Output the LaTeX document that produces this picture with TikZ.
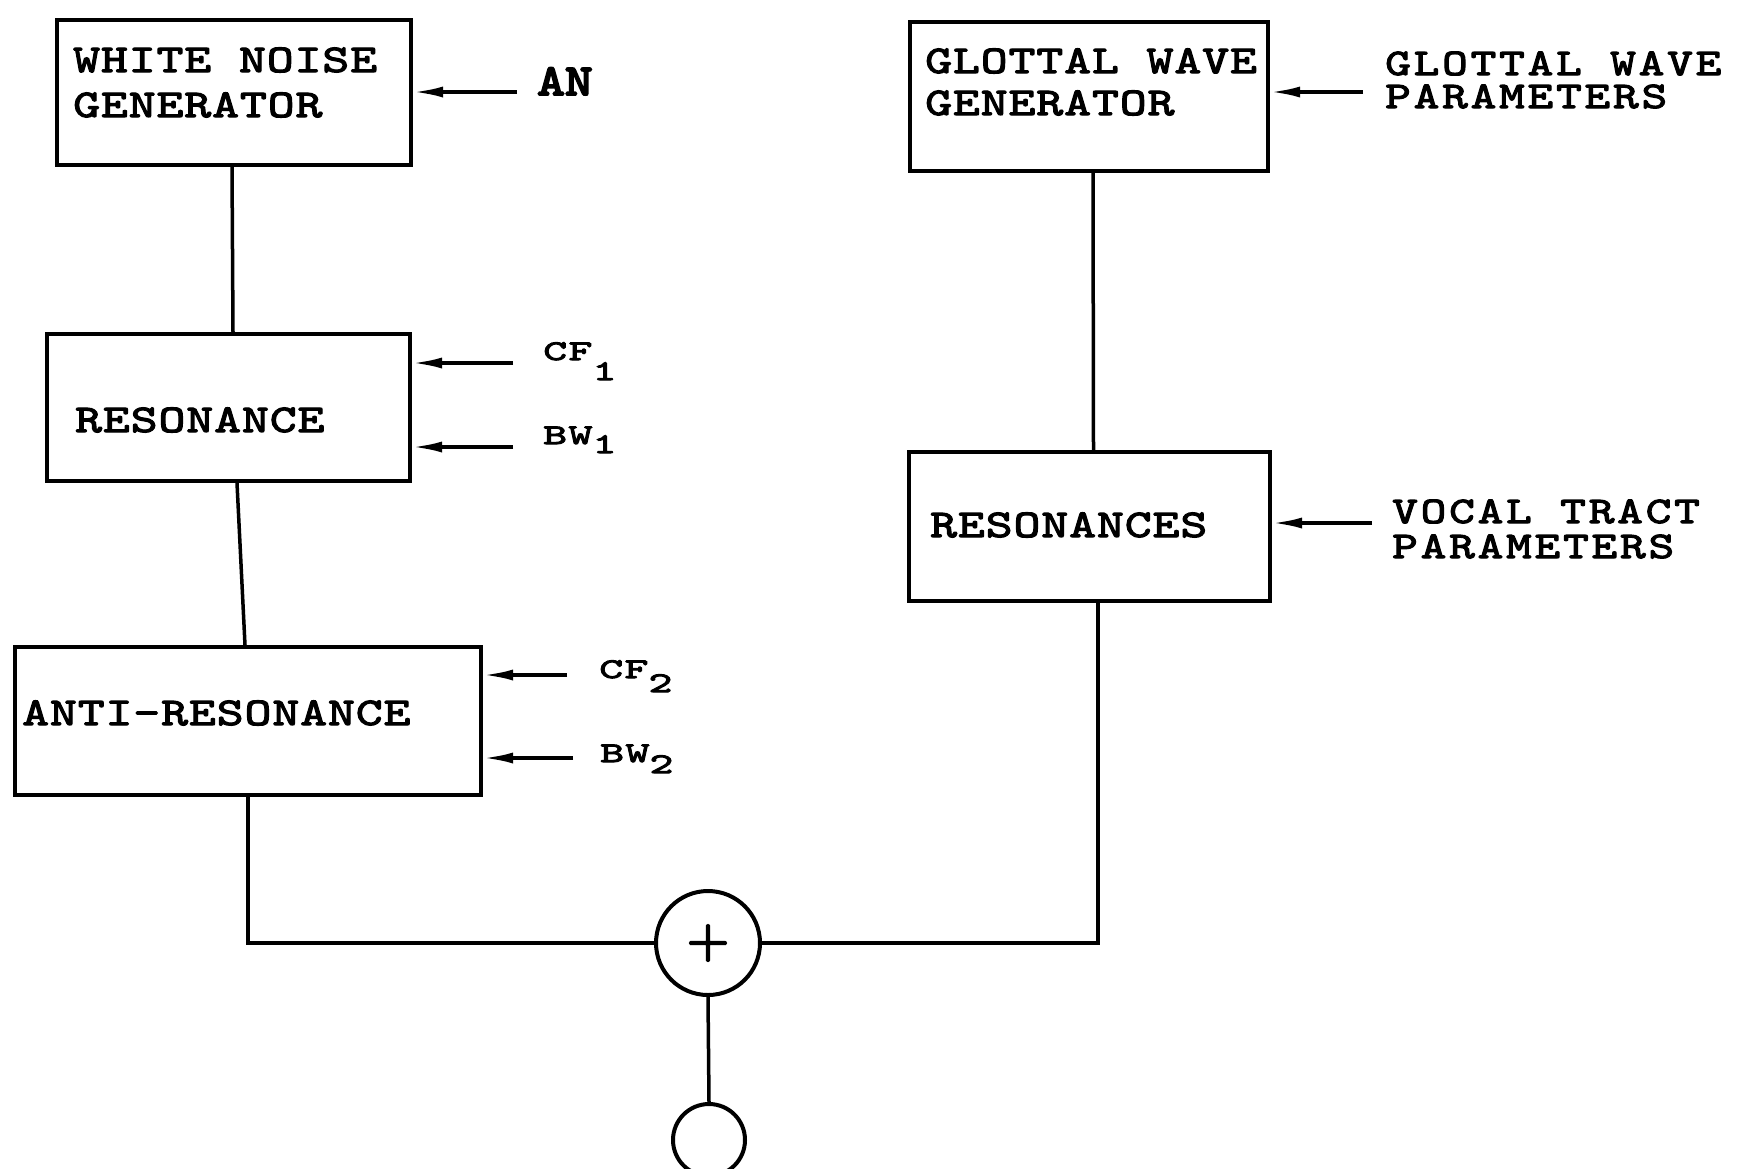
\documentclass[tikz,border=0pt]{standalone}
\usepackage{fontspec}
\usetikzlibrary{arrows.meta,calc}
\newfontfamily\twbox[FakeStretch=1.3,LetterSpace=2.5,FakeBold=3]{lmmono10-regular.otf}
\newfontfamily\twpar[FakeStretch=1.3,LetterSpace=7.5,FakeBold=3]{lmmono10-regular.otf}
\newfontfamily\twlbl[FakeStretch=1.6,LetterSpace=5,FakeBold=3.5]{lmmono10-regular.otf}
\newfontfamily\twan[FakeStretch=1.2,FakeBold=4.5]{lmmono10-regular.otf}
\newfontfamily\plusfont[FakeBold=3]{lmroman10-bold.otf}
\newcommand{\lowsub}[2]{\raisebox{-#1pt}{#2}}
\begin{document}
\begin{tikzpicture}[x=1pt,y=-1pt,
  blk/.style={draw, line width=4pt, rectangle, inner sep=0pt},
  wire/.style={line width=3.5pt},
  feed/.style={line width=3.5pt, -{Latex[length=30pt,width=11pt]}},
  boxtxt/.style={font=\twbox\fontsize{39.3}{40}\selectfont, anchor=base west, inner sep=0pt},
  partxt/.style={font=\twpar\fontsize{37.6}{40}\selectfont, anchor=base west, inner sep=0pt},
  lbltxt/.style={font=\twlbl\fontsize{28.5}{30}\selectfont, anchor=base west, inner sep=0pt},
  antxt/.style={font=\twan\fontsize{44}{46}\selectfont, anchor=base west, inner sep=0pt}]
\useasboundingbox (0,0) rectangle (1745,1168);

% boxes
\node[blk, minimum width=354pt, minimum height=145pt] (wn) at (234,92.5) {};
\node[blk, minimum width=363pt, minimum height=147pt] (res) at (228.5,407.5) {};
\node[blk, minimum width=466pt, minimum height=148pt] (ar) at (248,721) {};
\node[blk, minimum width=358pt, minimum height=149pt] (gw) at (1089,96.5) {};
\node[blk, minimum width=361pt, minimum height=149pt] (rs) at (1089.5,526.5) {};

% box texts
\node[boxtxt] (wn1) at (73,72) {WHITE NOISE};
\node[boxtxt] (wn2) at (73,117) {GENERATOR};
\node[boxtxt] (res1) at (75,432) {RESONANCE};
\node[boxtxt] (ar1) at (22,725) {ANTI-RESONANCE};
\node[boxtxt] (gw1) at (925,73) {GLOTTAL WAVE};
\node[boxtxt] (gw2) at (925,115) {GENERATOR};
\node[boxtxt] (rs1) at (930,537) {RESONANCES};

% input labels
\node[antxt] (an) at (537,95) {AN};
\node[lbltxt] (cf1) at (543,360) {CF\lowsub{20}{1}};
\node[lbltxt] (bw1) at (543,444) {BW\lowsub{9}{1}};
\node[lbltxt] (cf2) at (599,678) {CF\lowsub{14}{2}};
\node[lbltxt] (bw2) at (600,762) {BW\lowsub{11}{2}};
\node[partxt] (gp1) at (1385,75) {GLOTTAL WAVE};
\node[partxt] (gp2) at (1385,108) {PARAMETERS};
\node[partxt] (vp1) at (1392,523) {VOCAL TRACT};
\node[partxt] (vp2) at (1392,558) {PARAMETERS};

% input arrows
\coordinate (anS) at (517,92);
\coordinate (cf1S) at (513,363);
\coordinate (bw1S) at (513,447);
\coordinate (cf2S) at (567,675);
\coordinate (bw2S) at (573,758);
\coordinate (gpS) at (1363,92);
\coordinate (vpS) at (1372,523);
\draw[feed] (anS) -- (anS -| wn.east);
\draw[feed] (cf1S) -- (cf1S -| res.east);
\draw[feed] (bw1S) -- (bw1S -| res.east);
\draw[feed] (cf2S) -- (cf2S -| ar.east);
\draw[feed] (bw2S) -- (bw2S -| ar.east);
\draw[feed] (gpS) -- (gpS -| gw.east);
\draw[feed] (vpS) -- (vpS -| rs.east);

% summing junction and output
\node[draw, circle, line width=4pt, minimum size=104pt, inner sep=0pt,
      font=\plusfont\fontsize{48}{48}\selectfont] (sum) at (708,943) {+};
\node[draw, circle, line width=4pt, minimum size=72pt, inner sep=0pt] (out) at (709,1140) {};

% signal connectors
\draw[wire] ([xshift=-2pt]wn.south) -- ([xshift=4.5pt]res.north);
\draw[wire] ([xshift=8.5pt]res.south) -- ([xshift=-3pt]ar.north);
\draw[wire] (ar.south) |- (sum.west);
\draw[wire] ([xshift=4pt]gw.south) -- ([xshift=4pt]rs.north);
\draw[wire] ([xshift=8.5pt]rs.south) |- (sum.east);
\draw[wire] (sum.south) -- (out.north);
\end{tikzpicture}
\end{document}
